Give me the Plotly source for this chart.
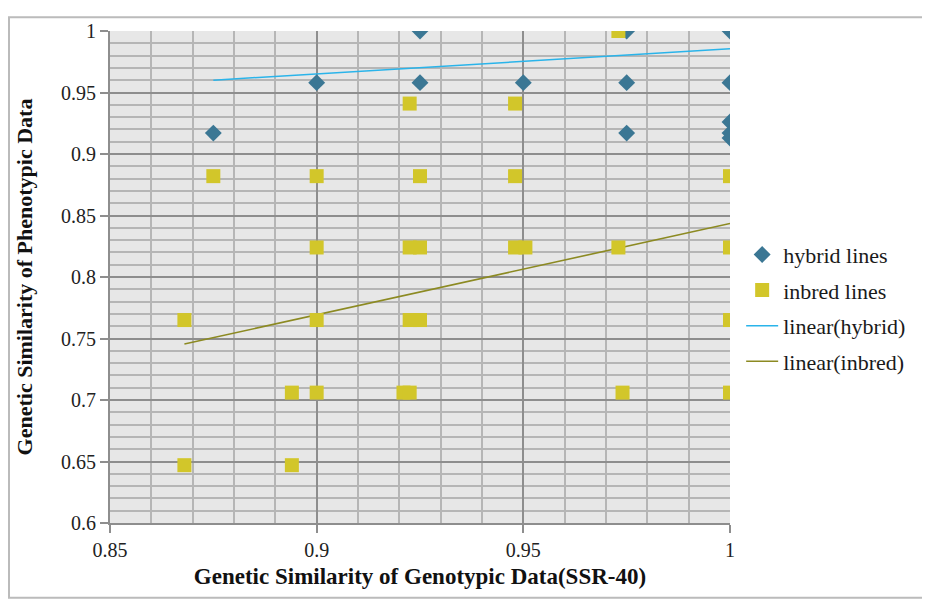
import plotly.graph_objects as go

# Hybrid lines (diamonds)
hybrid_x = [0.875, 0.9, 0.925, 0.925, 0.95, 0.975, 0.975, 0.975, 1.0, 1.0, 1.0, 1.0, 1.0]
hybrid_y = [0.917, 0.958, 1.0, 0.958, 0.958, 1.0, 0.958, 0.917, 1.0, 0.958, 0.926, 0.917, 0.913]

# Inbred lines (squares)
inbred_x = [0.868, 0.868, 0.875, 0.894, 0.894, 0.9, 0.9, 0.9, 0.9,
            0.9225, 0.925, 0.9225, 0.925, 0.9225, 0.925, 0.921, 0.9225,
            0.948, 0.948, 0.948, 0.9505, 0.973, 0.973, 0.974,
            1.0, 1.0, 1.0, 1.0]
inbred_y = [0.765, 0.647, 0.882, 0.706, 0.647, 0.882, 0.824, 0.765, 0.706,
            0.941, 0.882, 0.824, 0.824, 0.765, 0.765, 0.706, 0.706,
            0.941, 0.882, 0.824, 0.824, 1.0, 0.824, 0.706,
            0.882, 0.824, 0.765, 0.706]

# Linear trend lines (endpoints as drawn)
trend_hybrid_x = [0.875, 1.0]
trend_hybrid_y = [0.960, 0.9855]
trend_inbred_x = [0.868, 1.0]
trend_inbred_y = [0.7455, 0.8435]

x_ticks = [0.85, 0.9, 0.95, 1.0]
x_tick_labels = ["0.85", "0.9", "0.95", "1"]
y_ticks = [0.6, 0.65, 0.7, 0.75, 0.8, 0.85, 0.9, 0.95, 1.0]
y_tick_labels = ["0.6", "0.65", "0.7", "0.75", "0.8", "0.85", "0.9", "0.95", "1"]

FONT = "Liberation Serif, Times New Roman, serif"

# page body has an 8px default margin; compensate so the plot lands where the reference has it
W, H = 922, 592
L, T = 102, 15
PW, PH = 620, 500

fig = go.Figure()
fig.add_trace(go.Scatter(
    x=trend_hybrid_x, y=trend_hybrid_y, mode="lines", name="linear(hybrid)",
    line=dict(color="#2AB4EA", width=1.5), legendgroup="c", legendrank=3))
fig.add_trace(go.Scatter(
    x=trend_inbred_x, y=trend_inbred_y, mode="lines", name="linear(inbred)",
    line=dict(color="#8C8A22", width=1.6), legendgroup="d", legendrank=4))
fig.add_trace(go.Scatter(
    x=hybrid_x, y=hybrid_y, mode="markers", name="hybrid lines",
    marker=dict(symbol="diamond", size=13, color="#3B7794"), legendgroup="a", legendrank=1))
fig.add_trace(go.Scatter(
    x=inbred_x, y=inbred_y, mode="markers", name="inbred lines",
    marker=dict(symbol="square", size=14, color="#D2C62A"), legendgroup="b", legendrank=2))

fig.update_layout(
    width=W, height=H,
    margin=dict(l=L, r=W - L - PW, t=T, b=H - T - PH),
    paper_bgcolor="white",
    plot_bgcolor="#E7E7E7",
    font=dict(family=FONT, size=20, color="#222222"),
    legend=dict(x=1.018, y=0.588, xanchor="left", yanchor="top",
                font=dict(family=FONT, size=22, color="#1a1a1a"),
                tracegroupgap=4, bgcolor="rgba(0,0,0,0)", itemwidth=32),
    xaxis=dict(
        range=[0.85, 1.0], tickvals=x_ticks, ticktext=x_tick_labels,
        showgrid=True, gridcolor="#8E8E8E", gridwidth=1.5,
        minor=dict(dtick=0.01, showgrid=True, gridcolor="#B6B6B6", gridwidth=2),
        showline=True, linecolor="#8E8E8E", linewidth=2,
        ticks="outside", ticklen=8, tickcolor="#8E8E8E", tickwidth=1.5,
        zeroline=False,
        tickfont=dict(family=FONT, size=20),
        title=dict(text="<b>Genetic Similarity of Genotypic Data(SSR-40)</b>",
                   font=dict(family=FONT, size=23, color="#111111"), standoff=8),
    ),
    yaxis=dict(
        range=[0.6, 1.0], tickvals=y_ticks, ticktext=y_tick_labels,
        showgrid=True, gridcolor="#8E8E8E", gridwidth=1.5,
        minor=dict(dtick=0.01, showgrid=True, gridcolor="#B6B6B6", gridwidth=2),
        showline=True, linecolor="#8E8E8E", linewidth=2,
        ticks="outside", ticklen=8, tickcolor="#8E8E8E", tickwidth=1.5,
        zeroline=False,
        tickfont=dict(family=FONT, size=20),
        title=dict(text="<b>Genetic Similarity of Phenotypic Data</b>",
                   font=dict(family=FONT, size=22, color="#111111"), standoff=22),
    ),
)

# outer border of the chart frame
fig.add_shape(type="rect", xref="paper", yref="paper",
              x0=-(L - 1) / PW, x1=1 + (W - L - PW - 1) / PW,
              y0=-(H - T - PH - 1) / PH, y1=1 + (T - 1) / PH,
              line=dict(color="#BBBBBB", width=2), layer="below")

fig.write_html("out.html")
